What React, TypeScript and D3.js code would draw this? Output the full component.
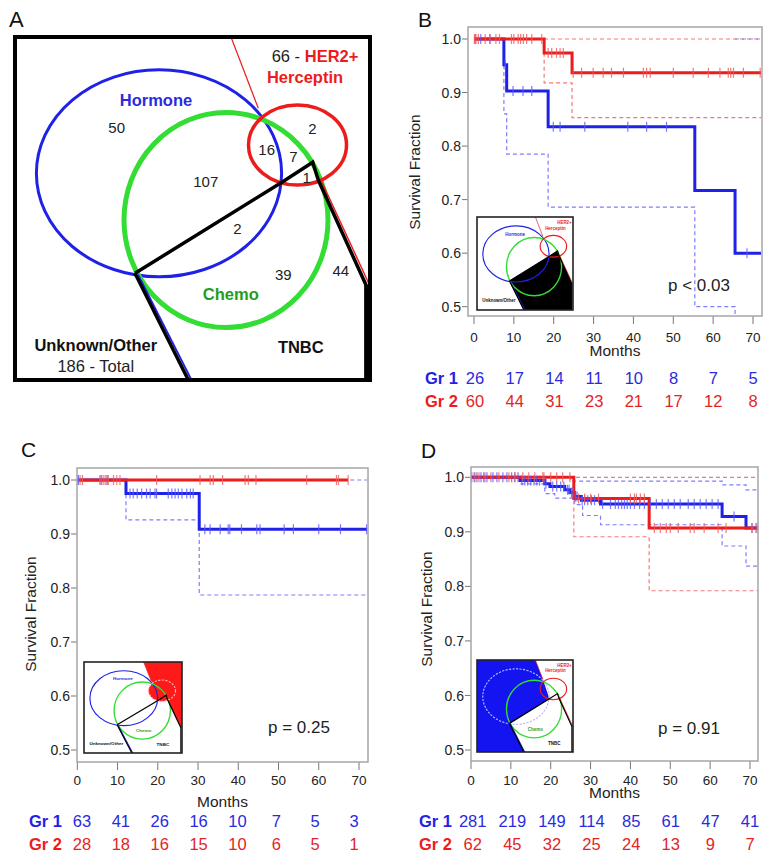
import React from 'react';
import * as d3 from 'd3';

type Step = [number, number];

// ---------------- Data ----------------
const xTicks = [0, 10, 20, 30, 40, 50, 60, 70];
const yTicks = [0.5, 0.6, 0.7, 0.8, 0.9, 1.0];
const riskTimes = [0, 10, 20, 30, 40, 50, 60, 70];

// Venn (panel A) counts
const vennCounts = ['50', '107', '16', '7', '2', '1', '2', '39', '44'];
const vennGroups = ['Hormone', 'Chemo', 'HER2+', 'Herceptin', 'Unknown/Other', 'TNBC'];
const vennTotals = ['66 - ', '186 - Total'];

// Panel B (TNBC vs rest)
const bGr1: Step[] = [[0, 1], [7.5, 0.952], [8.2, 0.903], [18.6, 0.836], [55.4, 0.717], [65.5, 0.6]];
const bGr1Lo: Step[] = [[0, 1], [7.5, 0.86], [8.2, 0.785], [18.6, 0.686], [55.4, 0.5], [65.5, 0.3]];
const bGr1Hi: Step[] = [[65.5, 1.0]];
const bGr2: Step[] = [[0, 1], [17.6, 0.974], [24.6, 0.937]];
const bGr2Lo: Step[] = [[0, 1], [17.6, 0.918], [24.6, 0.853]];
const bGr2Hi: Step[] = [[0, 1]];
const bCens1 = [0.3, 1.7, 4.0, 7.8, 9.8, 12.3, 14.5, 19.9, 21.6, 27.8, 38.6, 43.3, 48.3, 68.5];
const bCens2 = [0.1, 0.5, 1.1, 2.8, 4.0, 5.5, 6.4, 9.4, 10.0, 11.1, 11.7, 12.4, 13.2, 14.5, 17.0, 18.6, 19.5, 20.7, 21.6, 22.4, 24.9, 27.0, 29.9, 32.4, 34.5, 37.5, 42.5, 43.3, 44.2, 50.0, 55.0, 58.8, 61.7, 63.8, 64.4, 65.1, 67.6, 71.8];
const bRisk1 = [26, 17, 14, 11, 10, 8, 7, 5];
const bRisk2 = [60, 44, 31, 23, 21, 17, 12, 8];

// Panel C (HER2+)
const cGr1: Step[] = [[0, 1], [12.1, 0.975], [30.3, 0.909]];
const cGr1Lo: Step[] = [[0, 1], [12.1, 0.926], [30.3, 0.787]];
const cGr1Hi: Step[] = [[0, 1]];
const cGr2: Step[] = [[0, 1]];
const cCens1 = [0.3, 5.9, 7.4, 13.1, 13.9, 14.9, 16.0, 17.2, 18.1, 19.3, 19.7, 22.6, 23.5, 24.3, 25.1, 26.0, 27.2, 28.1, 28.8, 31.7, 33.0, 35.5, 37.5, 37.9, 40.8, 44.6, 45.4, 51.4, 53.7, 60.0, 65.4, 71.9];
const cCens2 = [0, 0.7, 1.3, 5.6, 6.1, 6.6, 7.1, 7.7, 9.0, 9.8, 10.6, 19.7, 30.5, 33.0, 33.8, 36.1, 41.7, 42.5, 44.4, 57.0, 64.4, 64.9, 67.3];
const cRisk1 = [63, 41, 26, 16, 10, 7, 5, 3];
const cRisk2 = [28, 18, 16, 15, 10, 6, 5, 1];

// Panel D (Hormone)
const dGr1: Step[] = [[0, 1], [12.3, 0.994], [18.5, 0.988], [19.8, 0.983], [23.5, 0.977], [24.8, 0.972], [26, 0.965], [27.7, 0.958], [32.5, 0.951], [63, 0.928], [69, 0.907]];
const dGr1Lo: Step[] = [[0, 1], [12.3, 0.988], [18.5, 0.97], [21, 0.962], [26, 0.95], [28, 0.93], [32.5, 0.913], [63, 0.874], [69, 0.837]];
const dGr1Hi: Step[] = [[0, 1], [25, 0.993], [63, 0.986], [69, 0.977]];
const dGr2: Step[] = [[0, 1], [25.8, 0.961], [44.7, 0.907]];
const dGr2Lo: Step[] = [[0, 1], [25.8, 0.891], [44.7, 0.792]];
const dGr2Hi: Step[] = [[0, 1]];
const dCens1 = [0.2, 0.8, 1.5, 2.5, 3.2, 4.0, 5.5, 6.5, 8.0, 9.0, 10.2, 11.0, 11.8, 12.8, 13.5, 14.2, 15.0, 15.8, 16.5, 17.2, 18.3, 18.8, 20.5, 21.5, 22.5, 23.3, 24.2, 24.6, 25.2, 25.6, 26.2, 26.6, 27.9, 28.5, 29.3, 30.2, 31.0, 33.0, 35.0, 36.2, 37.0, 37.8, 38.5, 39.2, 40.0, 41.0, 42.3, 43.5, 45.0, 46.5, 48.0, 49.5, 51.0, 52.5, 54.5, 56.0, 57.5, 59.0, 60.5, 62.0, 66.0, 70.5, 71.5];
const dCens2 = [1.0, 2.0, 3.5, 5.0, 7.0, 9.5, 11, 13, 14.5, 16, 18, 18.3, 20, 21.5, 23, 24.8, 27, 28.5, 30, 32, 40, 41, 41.5, 42.5, 43.5, 46, 47.5, 49, 50, 52, 55, 56, 58.5, 62, 64, 70.5, 71.8];
const dRisk1 = [281, 219, 149, 114, 85, 61, 47, 41];
const dRisk2 = [62, 45, 32, 25, 24, 13, 9, 7];

// ---------------- Styles ----------------
const FONT = '"Liberation Sans", Arial, Helvetica, sans-serif';
const BLUE = '#1f22e6';
const RED = '#ec1c1c';
const GREEN = '#33dd33';
const BLUE_CI = '#7d7dff';
const RED_CI = '#f27a7a';
const BLUE_T = '#2a2ae0';
const RED_T = '#e42424';

// ---------------- Venn geometry (layout, box-relative) ----------------
const BOX_W = 355;
const BOX_H = 343;
const P1: [number, number] = [120, 236.3];
const P2: [number, number] = [267.7, 144.7];
const P3: [number, number] = [297.7, 125.3];
const P4: [number, number] = [303.3, 143];
const P5: [number, number] = [351, 248];
const P6: [number, number] = [351, 343];
const P7: [number, number] = [173.3, 343];
const T: [number, number] = [216, 0];
const Q: [number, number] = [243.3, 71.3];
const countPos: [number, number][] = [
  [101.7, 95.7], [190.8, 149.7], [251.7, 118], [278.3, 124.7], [297.5, 97],
  [291.7, 146.3], [222.5, 197], [268.3, 243], [325.8, 239],
];

type VennMode = 'full' | 'tnbc' | 'her2' | 'hormone';
const pts = (a: [number, number][]) => a.map((p) => p.join(',')).join(' ');

function Venn({ mode }: { mode: VennMode }) {
  const inset = mode !== 'full';
  const w = inset
    ? { blue: 4.2, green: 5, red: 4.2, black: 4.5, thin: 2.5 }
    : { blue: 3, green: 5, red: 3.5, black: 3.5, thin: 1.2 };
  const fsL = 16.5;
  return (
    <g fontFamily={FONT}>
      <rect x={0} y={0} width={BOX_W} height={BOX_H} fill="#fff" />
      {mode === 'tnbc' && <polygon points={pts([P1, P2, P3, P4, P5, P6, P7])} fill="#000" />}
      {mode === 'her2' && (
        <g fill="#ff1a1a">
          <polygon points={pts([T, [BOX_W, 0], [BOX_W, 248], P5, P4, P3, Q])} />
          <ellipse cx={282.5} cy={108} rx={49} ry={40} />
        </g>
      )}
      {mode === 'hormone' && <polygon points={pts([[0, 0], T, Q, P2, P1, P7, [0, BOX_H]])} fill="#1414f0" />}
      <ellipse cx={144} cy={136.3} rx={122.6} ry={103.5} fill="none"
        stroke={mode === 'hormone' ? '#b4b8ff' : BLUE} strokeWidth={w.blue}
        strokeDasharray={mode === 'hormone' ? '8,5' : undefined} />
      <ellipse cx={211} cy={183} rx={102} ry={107.5} fill="none" stroke={GREEN} strokeWidth={w.green} />
      <ellipse cx={282.5} cy={108} rx={49} ry={40} fill="none"
        stroke={mode === 'her2' ? '#ffb4b4' : RED} strokeWidth={w.red}
        strokeDasharray={mode === 'her2' ? '8,5' : undefined} />
      <line x1={T[0]} y1={T[1]} x2={Q[0]} y2={Q[1]} stroke={RED} strokeWidth={w.thin} />
      <line x1={123} y1={237.5} x2={176.5} y2={343} stroke={BLUE} strokeWidth={w.thin * 1.5} />
      <line x1={306} y1={143} x2={354.5} y2={248} stroke={RED} strokeWidth={w.thin * 1.2} />
      <polyline points={pts([P1, P2, P3, P4, P5, P6])} fill="none" stroke="#000" strokeWidth={w.black} strokeLinejoin="miter" />
      <line x1={P1[0]} y1={P1[1]} x2={P7[0]} y2={P7[1]} stroke="#000" strokeWidth={w.black} />
      {mode === 'full' && (
        <line x1={P6[0] + 1} y1={P5[1]} x2={P6[0] + 1} y2={P6[1]} stroke="#000" strokeWidth={5} />
      )}
      {/* labels */}
      {mode !== 'her2' && (
        <>
          <text x={inset ? 256.7 + 40 : 256.7} y={24.7} fontSize={fsL} fill="#222" textAnchor="start">
            {!inset && <tspan>{vennTotals[0]}</tspan>}
            <tspan fill={RED} fontWeight="bold">{vennGroups[2]}</tspan>
          </text>
          <text x={290} y={46.3} fontSize={fsL} fill={RED} fontWeight="bold" textAnchor="middle">{vennGroups[3]}</text>
        </>
      )}
      {mode !== 'hormone' && (
        <text x={141} y={68.7} fontSize={fsL} fill={BLUE_T} fontWeight="bold" textAnchor="middle">{vennGroups[0]}</text>
      )}
      {mode !== 'tnbc' && (
        <text x={215.8} y={263} fontSize={fsL} fill="#1f9e1f" fontWeight="bold" textAnchor="middle">{vennGroups[1]}</text>
      )}
      {mode !== 'hormone' && (
        <text x={80.8} y={313.7} fontSize={fsL} fill="#111" fontWeight="bold" textAnchor="middle">{vennGroups[4]}</text>
      )}
      {mode !== 'tnbc' && (
        <text x={285.8} y={315.7} fontSize={fsL} fill="#111" fontWeight="bold" textAnchor="middle">{vennGroups[5]}</text>
      )}
      {!inset && (
        <>
          <text x={80.8} y={334.7} fontSize={fsL} fill="#222" textAnchor="middle">{vennTotals[1]}</text>
          {vennCounts.map((c, i) => (
            <text key={i} x={countPos[i][0]} y={countPos[i][1]} fontSize={15} fill="#222" textAnchor="middle">{c}</text>
          ))}
        </>
      )}
    </g>
  );
}

function Inset({ x, y, w, h, mode }: { x: number; y: number; w: number; h: number; mode: VennMode }) {
  return (
    <g>
      <g transform={`translate(${x},${y}) scale(${w / BOX_W},${h / BOX_H})`}>
        <Venn mode={mode} />
      </g>
      <rect x={x} y={y} width={w} height={h} fill="none" stroke="#222" strokeWidth={1.6} />
    </g>
  );
}

// ---------------- KM panel ----------------
interface Line { steps: Step[]; end: number; color: string; opacity?: number }
interface Cens { times: number[]; steps: Step[]; color: string }
interface PanelProps {
  id: string;
  letter: string; letterPos: [number, number];
  frame: { l: number; t: number; r: number; b: number };
  xr: [number, number]; yr: [number, number];
  cis: Line[]; curves: Line[]; cens: Cens[];
  pText: string; pPos: [number, number];
  ylabPos: [number, number];
  xLabBase: number; monthsBase: number;
  riskBase: [number, number]; grEnd: number; riskRange: [number, number];
  risk1: number[]; risk2: number[];
  inset: React.ReactNode;
}

const survAt = (steps: Step[], t: number) => {
  let s = steps[0][1];
  for (const [tt, ss] of steps) if (tt <= t) s = ss;
  return s;
};

function KMPanel(p: PanelProps) {
  const x = d3.scaleLinear().domain([0, 70]).range(p.xr);
  const y = d3.scaleLinear().domain([0.5, 1]).range(p.yr);
  const rx = d3.scaleLinear().domain([0, 70]).range(p.riskRange);
  const line = d3.line<Step>().x((d) => x(d[0])).y((d) => y(d[1])).curve(d3.curveStepAfter);
  const path = (l: Line) => line([...l.steps, [l.end, l.steps[l.steps.length - 1][1]]]) || '';
  const f = p.frame;
  const clipId = `clip-${p.id}`;
  return (
    <g fontFamily={FONT}>
      <defs>
        <clipPath id={clipId}>
          <rect x={f.l} y={f.t} width={f.r - f.l} height={f.b - f.t} />
        </clipPath>
      </defs>
      <text x={p.letterPos[0]} y={p.letterPos[1]} fontSize={21} fill="#111">{p.letter}</text>
      {/* y axis */}
      {yTicks.map((t) => (
        <g key={t}>
          <line x1={f.l - 6} x2={f.l} y1={y(t)} y2={y(t)} stroke="#777" strokeWidth={1} />
          <text x={f.l - 7} y={y(t)} dy="0.36em" fontSize={14} fill="#222" textAnchor="end">{t.toFixed(1)}</text>
        </g>
      ))}
      <text transform={`translate(${p.ylabPos[0]},${p.ylabPos[1]}) rotate(-90)`} fontSize={15.5} fill="#222" textAnchor="middle" dy="0.35em">Survival Fraction</text>
      {/* x axis */}
      {xTicks.map((t) => (
        <g key={t}>
          <line x1={x(t)} x2={x(t)} y1={f.b} y2={f.b + 8} stroke="#777" strokeWidth={1} />
          <text x={x(t)} y={p.xLabBase} fontSize={13.5} fill="#222" textAnchor="middle">{t}</text>
        </g>
      ))}
      <text x={(f.l + f.r) / 2} y={p.monthsBase} fontSize={15.5} fill="#222" textAnchor="middle">Months</text>
      {/* plot */}
      <g clipPath={`url(#${clipId})`}>
        {p.inset}
        {p.cis.map((l, i) => (
          <path key={i} d={path(l)} fill="none" stroke={l.color} strokeWidth={1.2} strokeDasharray="4,3" opacity={l.opacity ?? 1} />
        ))}
        {p.curves.map((l, i) => (
          <path key={i} d={path(l)} fill="none" stroke={l.color} strokeWidth={3} />
        ))}
        {p.cens.map((c, i) => (
          <g key={i} stroke={c.color} strokeWidth={1.2} opacity={0.8}>
            {c.times.map((t, j) => (
              <line key={j} x1={x(t)} x2={x(t)} y1={y(survAt(c.steps, t)) - 5} y2={y(survAt(c.steps, t)) + 5} />
            ))}
          </g>
        ))}
      </g>
      <rect x={f.l} y={f.t} width={f.r - f.l} height={f.b - f.t} fill="none" stroke="#a6a6a6" strokeWidth={1.5} />
      <text x={p.pPos[0]} y={p.pPos[1]} fontSize={17} fill="#222">{p.pText}</text>
      {/* numbers at risk */}
      <text x={p.grEnd} y={p.riskBase[0]} fontSize={16.5} fontWeight="bold" fill={BLUE} textAnchor="end">Gr 1</text>
      <text x={p.grEnd} y={p.riskBase[1]} fontSize={16.5} fontWeight="bold" fill={RED} textAnchor="end">Gr 2</text>
      {riskTimes.map((t, i) => (
        <g key={t} fontSize={16.5} textAnchor="middle">
          <text x={rx(t)} y={p.riskBase[0]} fill={BLUE_T}>{p.risk1[i]}</text>
          <text x={rx(t)} y={p.riskBase[1]} fill={RED_T}>{p.risk2[i]}</text>
        </g>
      ))}
    </g>
  );
}

export default function App() {
  return (
    <svg width={775} height={859} style={{ position: 'absolute', left: 0, top: 0, background: '#fff' }}>
      <rect width={775} height={859} fill="#fff" />
      {/* Panel A */}
      <text x={9} y={27} fontSize={22} fill="#111" fontFamily={FONT}>A</text>
      <g transform="translate(15,37)">
        <Venn mode="full" />
        <rect x={0} y={0} width={BOX_W} height={BOX_H} fill="none" stroke="#000" strokeWidth={4} />
      </g>

      {/* Panel B */}
      <KMPanel
        id="b" letter="B" letterPos={[418, 27]}
        frame={{ l: 468, t: 27, r: 762, b: 316 }} xr={[474, 753]} yr={[306.7, 39]}
        cis={[
          { steps: bGr1Lo, end: 72, color: BLUE_CI },
          { steps: bGr2Lo, end: 72, color: RED_CI },
          { steps: bGr2Hi, end: 72, color: RED_CI },
          { steps: bGr1Hi, end: 72, color: '#4a4aff', opacity: 0.6 },
        ]}
        curves={[
          { steps: bGr1, end: 72, color: BLUE },
          { steps: bGr2, end: 72, color: RED },
        ]}
        cens={[
          { times: bCens1, steps: bGr1, color: '#5a5aff' },
          { times: bCens2, steps: bGr2, color: '#f05a5a' },
        ]}
        pText="p < 0.03" pPos={[668, 291]} ylabPos={[415, 172]}
        xLabBase={342} monthsBase={356}
        riskBase={[384, 407]} grEnd={458} riskRange={[475, 753]}
        risk1={bRisk1} risk2={bRisk2}
        inset={<Inset x={477} y={217} w={96} h={93} mode="tnbc" />}
      />

      {/* Panel C */}
      <KMPanel
        id="c" letter="C" letterPos={[21, 457]}
        frame={{ l: 77, t: 468, r: 368, b: 762 }} xr={[77.3, 359]} yr={[750, 480]}
        cis={[
          { steps: cGr1Lo, end: 72, color: BLUE_CI },
          { steps: cGr1Hi, end: 72, color: BLUE_CI },
        ]}
        curves={[
          { steps: cGr1, end: 72, color: BLUE },
          { steps: cGr2, end: 67.3, color: RED },
        ]}
        cens={[
          { times: cCens1, steps: cGr1, color: '#5a5aff' },
          { times: cCens2, steps: cGr2, color: '#f05a5a' },
        ]}
        pText="p = 0.25" pPos={[268, 733]} ylabPos={[31, 614]}
        xLabBase={785} monthsBase={807}
        riskBase={[827, 850]} grEnd={62} riskRange={[82, 354]}
        risk1={cRisk1} risk2={cRisk2}
        inset={<Inset x={84} y={662} w={98} h={91} mode="her2" />}
      />

      {/* Panel D */}
      <KMPanel
        id="d" letter="D" letterPos={[421, 458]}
        frame={{ l: 471, t: 467, r: 758, b: 761 }} xr={[471, 750]} yr={[750, 477.3]}
        cis={[
          { steps: dGr1Lo, end: 72, color: BLUE_CI },
          { steps: dGr1Hi, end: 72, color: BLUE_CI },
          { steps: dGr2Lo, end: 72, color: RED_CI },
          { steps: dGr2Hi, end: 72, color: RED_CI },
        ]}
        curves={[
          { steps: dGr1, end: 72, color: BLUE },
          { steps: dGr2, end: 72, color: RED },
        ]}
        cens={[
          { times: dCens1, steps: dGr1, color: '#5a5aff' },
          { times: dCens2, steps: dGr2, color: '#f05a5a' },
        ]}
        pText="p = 0.91" pPos={[658, 734]} ylabPos={[427, 609]}
        xLabBase={785} monthsBase={798}
        riskBase={[827, 850]} grEnd={452} riskRange={[472.7, 750]}
        risk1={dRisk1} risk2={dRisk2}
        inset={<Inset x={477} y={660} w={96} h={92} mode="hormone" />}
      />
    </svg>
  );
}
